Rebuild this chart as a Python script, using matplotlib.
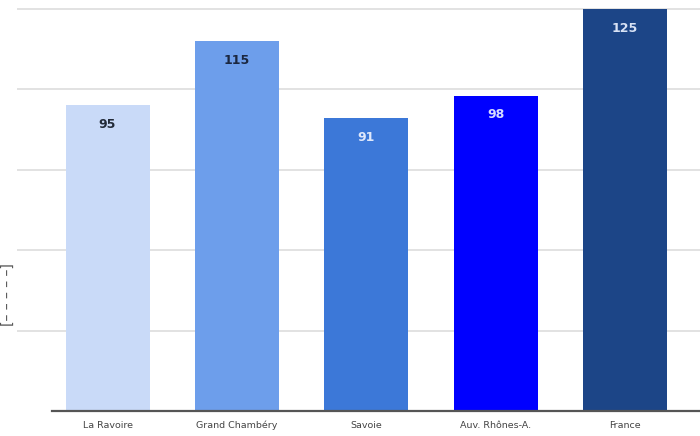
import matplotlib
matplotlib.use('agg')
import matplotlib.pyplot as plt

# values
places = ["La Ravoire", "Grand Chambéry", "Savoie", "Auv. Rhônes-A.", "France"]
values = [95, 115, 91, 98, 125]
bar_colors = ["#c9daf8", "#6d9eeb", "#3c78d8", "#0000ff", "#1c4587"]
label_colors = ["#222a38", "#1b2740", "#dfe8fb", "#d6dcff", "#d8e2f5"]
grid_values = [25, 50, 75, 100, 125]

fig = plt.figure(figsize=(7, 4.36), dpi=100)
ax = fig.add_axes([17 / 700, 25 / 436, 683 / 700, 411 / 436])

x = list(range(len(places)))
ax.set_xlim(-0.70, 4.58)
ax.set_ylim(0, 127.8)

for g in grid_values:
    ax.axhline(g, color="#e2e2e2", lw=1.4, zorder=0)

bars = ax.bar(x, values, width=0.65, color=bar_colors, zorder=2)

# value labels just inside the top of each bar
for b, v, c in zip(bars, values, label_colors):
    ax.annotate(str(v), (b.get_x() + b.get_width() / 2, v),
                xytext=(0, -19), textcoords="offset pixels",
                ha="center", va="center", fontsize=9, fontweight="bold",
                color=c, zorder=3)

for s in ["top", "right", "left"]:
    ax.spines[s].set_visible(False)
ax.spines["bottom"].set_bounds(-0.43, 4.58)
ax.spines["bottom"].set_color("#555555")
ax.spines["bottom"].set_linewidth(1.6)
ax.spines["bottom"].set_zorder(4)

ax.set_yticks([])
ax.set_xticks(x)
ax.set_xticklabels(places, fontsize=6.8, color="#444444")
ax.tick_params(axis="x", length=0, pad=7)

# cut-off y axis title on the left edge
fig.text(8 / 700, 1 - 295 / 436, "[– – – – –]", rotation=90, fontsize=10,
         color="#555555", ha="center", va="center")

fig.savefig("out.png", dpi=100)
